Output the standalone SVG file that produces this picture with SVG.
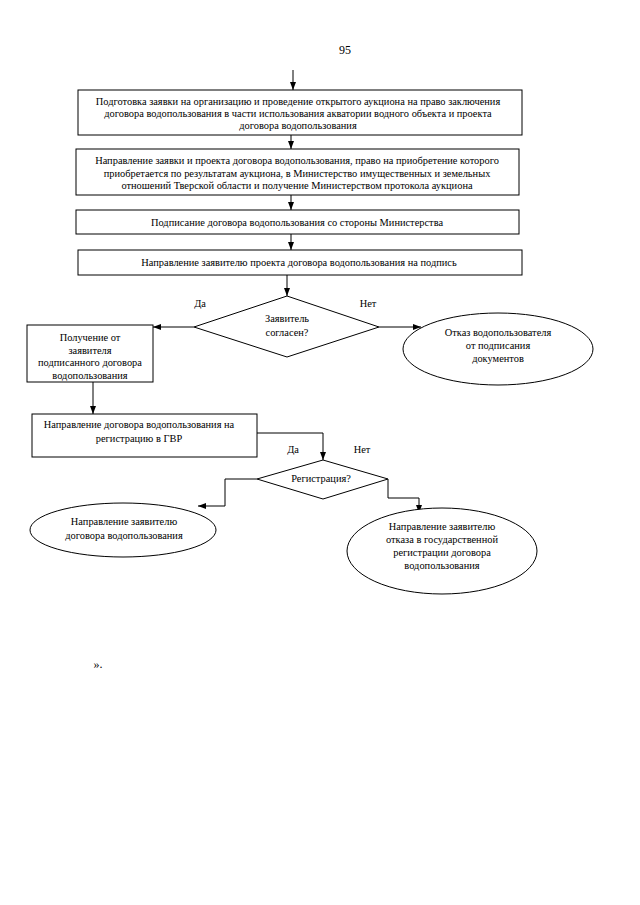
<svg xmlns="http://www.w3.org/2000/svg" width="640" height="905" viewBox="0 0 640 905">
<style>
.b{fill:#fff;stroke:#000;stroke-width:1}
.c{fill:none;stroke:#000;stroke-width:1}
text{font-family:"Liberation Serif","Times New Roman",serif;font-size:10.4px;fill:#000;text-anchor:middle}
</style>
<defs>
<marker id="a" viewBox="0 0 8 6" refX="8" refY="3" markerWidth="8" markerHeight="6" markerUnits="userSpaceOnUse" orient="auto">
<path d="M0,0 L8,3 L0,6 Z" fill="#000"/>
</marker>
</defs>
<rect width="640" height="905" fill="#fff"/>
<text x="345" y="54" style="font-size:12px">95</text>
<g id="connectors">
<path class="c" d="M293,70 V90" marker-end="url(#a)"/>
<path class="c" d="M291,135 V149" marker-end="url(#a)"/>
<path class="c" d="M291,195 V210" marker-end="url(#a)"/>
<path class="c" d="M291,234 V250" marker-end="url(#a)"/>
<path class="c" d="M287,275 V296" marker-end="url(#a)"/>
<path class="c" d="M194,327 H153" marker-end="url(#a)"/>
<path class="c" d="M379,327 H421" marker-end="url(#a)"/>
<path class="c" d="M93,382 V414" marker-end="url(#a)"/>
<path class="c" d="M257,433 H323 V460" marker-end="url(#a)"/>
<path class="c" d="M257,479 H225 V506 H198" marker-end="url(#a)"/>
<path class="c" d="M388,479 V498 H419 V513" marker-end="url(#a)"/>
<text x="200" y="307">Да</text>
<text x="368" y="307">Нет</text>
<text x="293" y="453">Да</text>
<text x="362" y="453">Нет</text>
</g>
<g id="n1">
<rect class="b" x="78" y="90" width="444" height="45"/>
<text x="298" y="105">Подготовка заявки на организацию и проведение открытого аукциона на право заключения</text>
<text x="298" y="117">договора водопользования в части использования акватории водного объекта и проекта</text>
<text x="298" y="129">договора водопользования</text>
</g>
<g id="n2">
<rect class="b" x="76" y="149" width="443" height="46"/>
<text x="297" y="164">Направление заявки и проекта договора водопользования, право на приобретение которого</text>
<text x="297" y="176.5">приобретается по результатам аукциона, в Министерство имущественных и земельных</text>
<text x="297" y="189">отношений Тверской области и получение Министерством протокола аукциона</text>
</g>
<g id="n3">
<rect class="b" x="76" y="210" width="443" height="24"/>
<text x="297" y="225.5">Подписание договора водопользования со стороны Министерства</text>
</g>
<g id="n4">
<rect class="b" x="78" y="250" width="444" height="25"/>
<text x="299" y="266">Направление заявителю проекта договора водопользования на подпись</text>
</g>
<g id="d1">
<polygon class="b" points="287,296 379,327 287,357 194,327"/>
<text x="287" y="322">Заявитель</text>
<text x="287" y="336">согласен?</text>
</g>
<g id="n5">
<rect class="b" x="27" y="325" width="126" height="57"/>
<text x="90" y="341">Получение от</text>
<text x="90" y="353.5">заявителя</text>
<text x="90" y="366">подписанного договора</text>
<text x="90" y="378.5">водопользования</text>
</g>
<g id="e1">
<ellipse class="b" cx="498" cy="349" rx="95" ry="36"/>
<text x="498" y="336">Отказ водопользователя</text>
<text x="498" y="349">от подписания</text>
<text x="498" y="362">документов</text>
</g>
<g id="n6">
<rect class="b" x="32" y="414" width="225" height="43"/>
<text x="139" y="428">Направление договора водопользования на</text>
<text x="139" y="442">регистрацию в ГВР</text>
</g>
<g id="d2">
<polygon class="b" points="323,460 388,479 323,499 257,479"/>
<text x="321" y="482">Регистрация?</text>
</g>
<g id="e2">
<ellipse class="b" cx="123" cy="530" rx="93" ry="27"/>
<text x="124" y="525">Направление заявителю</text>
<text x="124" y="539">договора водопользования</text>
</g>
<g id="e3">
<ellipse class="b" cx="442" cy="551" rx="95" ry="43"/>
<text x="442" y="530">Направление заявителю</text>
<text x="442" y="543">отказа в государственной</text>
<text x="442" y="556">регистрации договора</text>
<text x="442" y="569">водопользования</text>
</g>
<text x="98" y="668" style="font-size:12px">».</text>
</svg>
